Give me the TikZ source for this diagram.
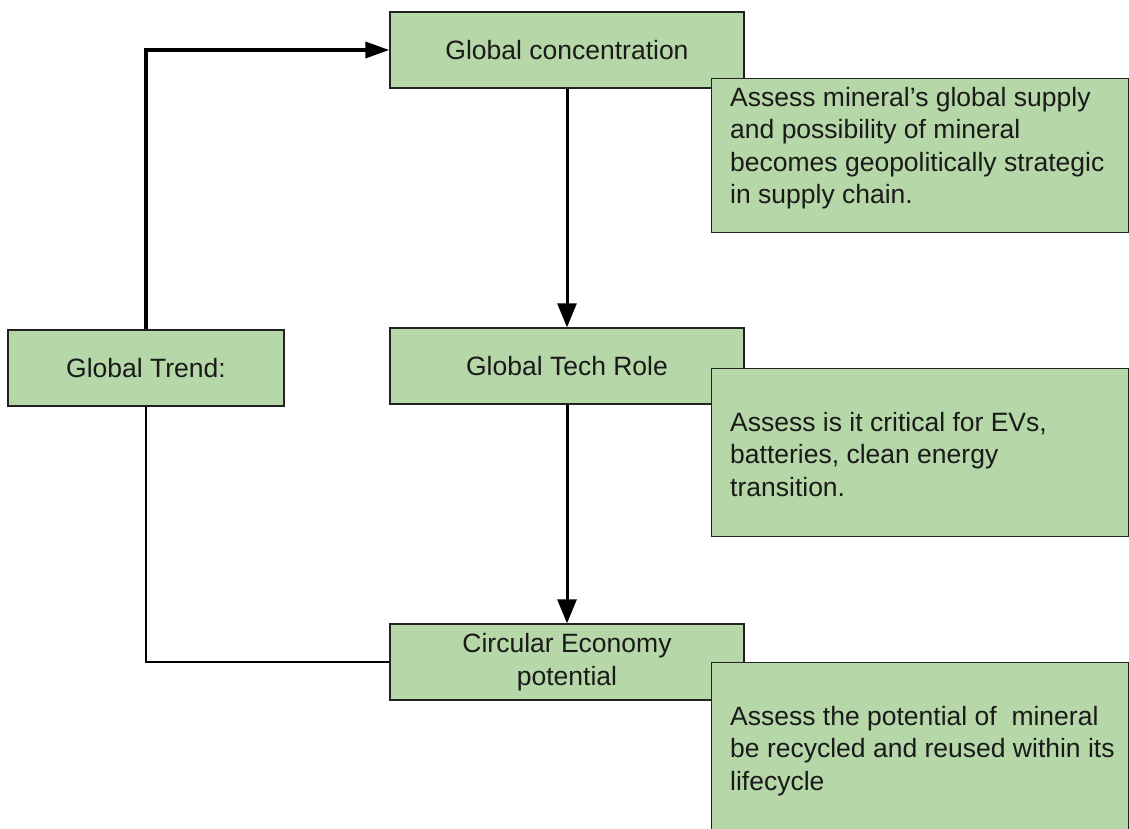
\documentclass[tikz,border=0pt]{standalone}
\usepackage{fontspec}
\setmainfont{Liberation Sans}
\usetikzlibrary{arrows.meta}
\definecolor{boxgreen}{HTML}{B6D7A8}
\definecolor{boxline}{HTML}{222222}
\definecolor{ink}{HTML}{1A1A1A}
\tikzset{
  mainbox/.style={draw=boxline, line width=1.4pt, fill=boxgreen, rectangle,
    minimum width=354pt, minimum height=76pt, inner sep=0pt, align=center,
    text=ink, font=\fontsize{26.5}{33}\selectfont},
  trendbox/.style={mainbox, minimum width=276pt},
  descbox/.style={draw=boxline, line width=1.4pt, fill=boxgreen, rectangle,
    anchor=north west, inner sep=0pt},
  desctext/.style={anchor=north west, inner sep=0pt, align=left, text=ink,
    font=\fontsize{26.5}{32.3}\selectfont},
  flowarrow/.style={draw=black, line width=3pt,
    -{Triangle[length=24pt,width=19pt]}},
  feedarrow/.style={draw=black, line width=3.6pt,
    -{Triangle[length=24pt,width=16pt]}},
  plainlink/.style={draw=black, line width=1.5pt}
}
\begin{document}
\begin{tikzpicture}[x=1pt,y=-1pt]
  \useasboundingbox (0,0) rectangle (1129,828);
  \clip (0,0) rectangle (1129,828);

  % main boxes
  \node[trendbox] (trend) at (146,368) {Global Trend:};
  \node[mainbox] (conc) at (567,50) {Global concentration};
  \node[mainbox] (tech) at (567,366) {Global Tech Role};
  \node[mainbox] (circ) at (567,662) {Circular Economy\\potential};

  % description boxes, drawn over the right end of each main box
  \node[descbox, minimum width=417pt, minimum height=154pt] (d1) at (711,78) {};
  \node[desctext] (d1t) at (730,87) {Assess mineral’s global supply\\and possibility of mineral\\becomes geopolitically strategic\\in supply chain.};

  \node[descbox, minimum width=417pt, minimum height=168pt] (d2) at (711,368) {};
  \node[desctext] (d2t) at (730,412) {Assess is it critical for EVs,\\batteries, clean energy\\transition.};

  \node[descbox, minimum width=417pt, minimum height=190pt] (d3) at (711,662) {};
  \node[desctext] (d3t) at (730,706) {Assess the potential of\ \ mineral\\be recycled and reused within its\\lifecycle};

  % connectors
  \draw[feedarrow] (trend.north) |- (conc.west);
  \draw[flowarrow] (conc.south) -- (tech.north);
  \draw[flowarrow] (tech.south) -- (circ.north);
  \draw[plainlink] (trend.south) |- (circ.west);
\end{tikzpicture}
\end{document}
